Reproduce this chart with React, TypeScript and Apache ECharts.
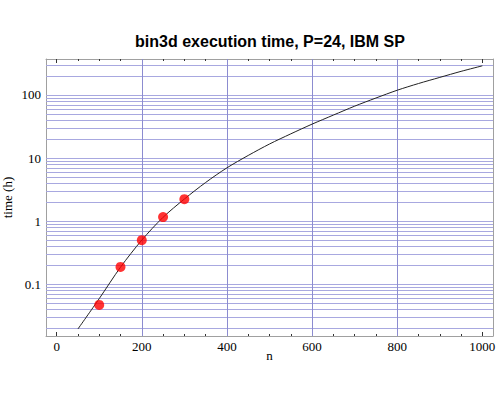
import React, { useEffect, useRef } from "react";
import * as echarts from "echarts";

// Curve (model) values
const nCurve = [50, 100, 150, 200, 250, 300, 350, 400, 450, 500, 550, 600, 650, 700, 750, 800, 850, 900, 950, 1000];
const tCurve = [0.0195, 0.059, 0.186, 0.5, 1.15, 2.24, 4.1, 7.0, 11, 16.7, 24.2, 34.5, 48, 66.5, 89.5, 119, 152, 190, 237, 290];

// Measured points
const nPoints = [100, 150, 200, 250, 300];
const tPoints = [0.047, 0.188, 0.5, 1.16, 2.23];

// Axis ticks / gridlines
const xTickLabels = [0, 200, 400, 600, 800, 1000];
const xMinorTicks = [0, 50, 100, 150, 200, 250, 300, 350, 400, 450, 500, 550, 600, 650, 700, 750, 800, 850, 900, 950, 1000];
const xGridLines = [200, 400, 600, 800];
const yMajorTicks = [0.1, 1, 10, 100];
const yMinorTicks = [
  0.02, 0.03, 0.04, 0.05, 0.06, 0.07, 0.08, 0.09,
  0.2, 0.3, 0.4, 0.5, 0.6, 0.7, 0.8, 0.9,
  2, 3, 4, 5, 6, 7, 8, 9,
  20, 30, 40, 50, 60, 70, 80, 90,
  200, 300,
];
const yGridLines = [...yMinorTicks, ...yMajorTicks];

const X_MIN = -25;
const X_MAX = 1025;
const Y_MIN = 0.0151;
const Y_MAX = 372;

const SERIF = "Liberation Serif";
const FRAME = "#a0a0a0";
const TICK = "#333";

function fmtY(v: number): string {
  const l = Math.log10(v);
  if (Math.abs(l - Math.round(l)) > 1e-6) return "";
  const r = Math.round(l);
  if (r < -1 || r > 2) return "";
  return r >= 0 ? String(Math.round(v)) : String(+v.toPrecision(1));
}

export default function App() {
  const ref = useRef<HTMLDivElement>(null);
  useEffect(() => {
    document.body.style.margin = "0";
    if (!ref.current) return;
    const chart = echarts.init(ref.current, null, { renderer: "svg" });

    const xBase = (pos: "bottom" | "top") => ({
      type: "value" as const,
      min: X_MIN,
      max: X_MAX,
      position: pos,
      axisLine: { show: false, onZero: false },
      axisLabel: { show: false },
      splitLine: { show: false },
    });
    const yBase = (pos: "left" | "right") => ({
      type: "log" as const,
      logBase: 10,
      min: Y_MIN,
      max: Y_MAX,
      position: pos,
      axisLine: { show: false, onZero: false },
      axisLabel: { show: false },
      splitLine: { show: false },
      minorTick: { show: false },
      minorSplitLine: { show: false },
    });

    chart.setOption({
      animation: false,
      title: {
        text: "bin3d execution time, P=24, IBM SP",
        left: 270,
        textAlign: "center",
        top: 33,
        padding: 0,
        textStyle: { fontFamily: "Liberation Sans", fontWeight: "bold", fontSize: 16, color: "#000" },
      },
      grid: { left: 46, right: 7, top: 59, bottom: 64, containLabel: false, outerBoundsMode: "none" },
      xAxis: [
        {
          ...xBase("bottom"),
          name: "n",
          nameLocation: "middle",
          nameGap: 13,
          nameMoveOverlap: false,
          nameTextStyle: { fontFamily: SERIF, fontSize: 13, color: "#000" },
          axisLine: { show: true, onZero: false, lineStyle: { color: FRAME, width: 1 } },
          axisTick: { show: true, inside: true, length: 4, customValues: xTickLabels, lineStyle: { color: TICK } },
          axisLabel: {
            show: true,
            customValues: xTickLabels,
            formatter: (v: number) => String(v),
            margin: 4,
            fontFamily: SERIF,
            fontSize: 13,
            color: "#000",
          },
        },
        {
          ...xBase("bottom"),
          axisTick: { show: true, inside: true, length: 2, customValues: xMinorTicks, lineStyle: { color: TICK } },
        },
        {
          ...xBase("top"),
          axisLine: { show: true, onZero: false, lineStyle: { color: FRAME, width: 1 } },
          axisTick: { show: true, inside: true, length: 4, customValues: xTickLabels, lineStyle: { color: TICK } },
        },
        {
          ...xBase("top"),
          axisTick: { show: true, inside: true, length: 2, customValues: xMinorTicks, lineStyle: { color: TICK } },
        },
      ],
      yAxis: [
        {
          ...yBase("left"),
          name: "time (h)",
          nameLocation: "middle",
          nameGap: 32,
          nameMoveOverlap: false,
          nameTextStyle: { fontFamily: SERIF, fontSize: 13, color: "#000" },
          axisLine: { show: true, onZero: false, lineStyle: { color: FRAME, width: 1 } },
          axisTick: { show: true, inside: true, length: 5, customValues: yMajorTicks, lineStyle: { color: TICK } },
          axisLabel: { show: true, customValues: yMajorTicks, formatter: fmtY, margin: 5, fontFamily: SERIF, fontSize: 13, color: "#000" },
        },
        {
          ...yBase("left"),
          axisTick: { show: true, inside: true, length: 3, customValues: yMinorTicks, lineStyle: { color: TICK } },
        },
        {
          ...yBase("right"),
          axisLine: { show: true, onZero: false, lineStyle: { color: FRAME, width: 1 } },
          axisTick: { show: true, inside: true, length: 5, customValues: yMajorTicks, lineStyle: { color: TICK } },
        },
        {
          ...yBase("right"),
          axisTick: { show: true, inside: true, length: 3, customValues: yMinorTicks, lineStyle: { color: TICK } },
        },
      ],
      series: [
        {
          type: "line",
          name: "model",
          xAxisIndex: 0,
          yAxisIndex: 0,
          data: nCurve.map((n, i) => [n, tCurve[i]]),
          showSymbol: false,
          smooth: 0.3,
          z: 3,
          lineStyle: { color: "#222", width: 1 },
          markLine: {
            silent: true,
            z: 1,
            symbol: ["none", "none"],
            label: { show: false },
            emphasis: { disabled: true },
            data: [
              ...yGridLines.map((v) => ({ yAxis: v, lineStyle: { color: "#a8a8e0", width: 1, type: "solid" } })),
              ...xGridLines.map((v) => ({ xAxis: v, lineStyle: { color: "#8c8cd0", width: 1, type: "solid" } })),
            ],
          },
        },
        {
          type: "scatter",
          name: "measured",
          xAxisIndex: 0,
          yAxisIndex: 0,
          data: nPoints.map((n, i) => [n, tPoints[i]]),
          symbol: "circle",
          symbolSize: 10,
          z: 4,
          itemStyle: { color: "#ff0000" },
        },
      ],
    });
    return () => chart.dispose();
  }, []);
  return <div ref={ref} style={{ width: 500, height: 400 }} />;
}
